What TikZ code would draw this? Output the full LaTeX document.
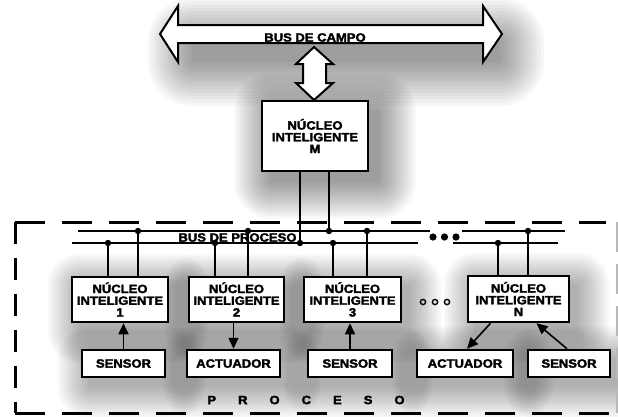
\documentclass[tikz,border=0pt]{standalone}
\usepackage{fontspec}
\newfontfamily\lab[FakeStretch=1.09,FakeBold=2.5]{Liberation Sans Bold}
\usetikzlibrary{arrows.meta,calc}
\pgfdeclarelayer{under}
\pgfsetlayers{under,main}

% soft drop shadow: stacked translucent rounded rectangles
% #1,#2 corners, #3,#4 offset, #5 spread per layer, #6 opacity per layer
\newcommand\drop[6]{%
  \foreach \k in {0,...,13}{%
    \pgfmathsetmacro\rr{\k*#5+1}%
    \fill[black,opacity=#6,rounded corners=\rr bp]
      ($#1+(#3-\k*#5,#4-\k*#5)$) rectangle ($#2+(#3+\k*#5,#4+\k*#5)$);
  }}

\begin{document}
\begin{tikzpicture}[x=1bp,y=-1bp,
  txt/.style={font=\lab\fontsize{12}{11.8}\selectfont},
  core/.style={txt,draw,line width=2.5bp,fill=white,align=center,inner sep=0pt},
  io/.style={txt,draw,line width=2.5bp,fill=white,inner sep=0pt,minimum height=27bp},
  bigarrow/.style={draw,line width=2bp,fill=white,line join=miter},
  bus/.style={line width=1.2bp},
  tap/.style={line width=1.5bp},
  sig/.style={line width=1.6bp,-{Triangle[length=11bp,width=10bp]}},
  hframe/.style={line width=3bp,dash pattern=on 30bp off 17bp},
  vframe/.style={line width=3bp,dash pattern=on 22bp off 14bp}
]
\useasboundingbox (0,0) rectangle (618,416);

% field bus: wide double arrow
\coordinate (fbA) at (178,24);
\coordinate (fbB) at (486,44);
\path[bigarrow] (160,34) -- (178,6) -- (178,25) -- (483,25) -- (483,6) -- (502,34)
  -- (483,62) -- (483,43) -- (178,43) -- (178,62) -- cycle;
\node[txt] (campo) at (315,37.5) {BUS DE CAMPO};

% master core
\node[core,minimum width=106bp,minimum height=70bp] (M) at (315,136)
  {NÚCLEO\\INTELIGENTE\\M};

% link between field bus and master core
\path[bigarrow] (314,47) -- (333,64) -- (326,64) -- (326,83) -- (333,83) -- (314,100)
  -- (296,83) -- (303,83) -- (303,64) -- (296,64) -- cycle;

% process boundary
\draw[hframe] (15,222) -- (606,222);
\draw[hframe] (15,413) -- (612,413);
\draw[vframe] (15,222) -- (15,413);
\draw[line width=2bp,gray!55,dash pattern=on 30bp off 12bp] (617,222) -- (617,413);

% process bus (two lines)
\draw[bus] (78,231) -- (430,231);
\draw[bus] (462,231) -- (565,231);
\draw[bus] (72,243) -- (418,243);
\draw[bus] (453,243) -- (558,243);
\node[txt,inner sep=0pt] (pbus) at (237.5,237.5) {BUS DE PROCESO};
\foreach \x in {433,444.5,456} \fill (\x,237) circle (3.6bp);

% local cores
\node[core,minimum width=96bp,minimum height=45bp] (N1) at (120,299.5) {NÚCLEO\\INTELIGENTE\\1};
\node[core,minimum width=95bp,minimum height=45bp] (N2) at (236.5,299.5) {NÚCLEO\\INTELIGENTE\\2};
\node[core,minimum width=97bp,minimum height=45bp] (N3) at (352.5,299.5) {NÚCLEO\\INTELIGENTE\\3};
\node[core,minimum width=101bp,minimum height=46bp] (NN) at (518.5,299) {NÚCLEO\\INTELIGENTE\\N};
\foreach \x in {423,435,447} \draw[line width=1.4bp] (\x,302) circle (2.6bp);

% sensors and actuators
\node[io,minimum width=83bp] (S1) at (123.5,363.5) {SENSOR};
\node[io,minimum width=93bp] (A2) at (233.5,363.5) {ACTUADOR};
\node[io,minimum width=84bp] (S3) at (350,363.5) {SENSOR};
\node[io,minimum width=96bp] (AN) at (465,363.5) {ACTUADOR};
\node[io,minimum width=82bp] (SN) at (569,363.5) {SENSOR};

% bus taps: (lower line, upper line) per core
\coordinate (m1) at (300,243);  \coordinate (m2) at (329,231);
\coordinate (a1) at (108,243);  \coordinate (a2) at (138,231);
\coordinate (b1) at (215,243);  \coordinate (b2) at (248,231);
\coordinate (c1) at (333,243);  \coordinate (c2) at (367,231);
\coordinate (d1) at (498,243);  \coordinate (d2) at (528,231);

\draw[tap] (m1 |- M.south) -- (m1);
\draw[tap] (m2 |- M.south) -- (m2);
\foreach \p/\n in {a1/N1,a2/N1,b1/N2,b2/N2,c1/N3,c2/N3,d1/NN,d2/NN}
  \draw[tap] (\p) -- (\p |- \n.north);
\foreach \p in {m1,m2,a1,a2,b1,b2,c1,c2,d1,d2} \fill (\p) circle (3.2bp);

% signal flow
\draw[sig] (S1.north) -- (S1.north |- N1.south);
\draw[sig] (A2.north |- N2.south) -- (A2.north);
\draw[sig] (S3.north) -- (S3.north |- N3.south);
\draw[sig] ($(NN.south)+(-28,0)$) -- ($(AN.north)+(2,0)$);
\draw[sig] ($(SN.north)+(-2,0)$) -- ($(NN.south)+(18,0)$);

% process label
\node[txt] (proc) at (306,400) {P\hspace{22bp}R\hspace{22bp}O\hspace{22bp}C\hspace{22bp}E\hspace{22bp}S\hspace{22bp}O};

% shadows beneath everything
\begin{pgfonlayer}{under}
  \fill[white] (0,0) rectangle (618,416);
  \drop{(fbA)}{(fbB)}{14}{18}{3.4}{0.03}
  \drop{(M.north west)}{(M.south east)}{10}{10}{2.8}{0.03}
  \foreach \n in {N1,N2,N3,NN,S1,A2,S3,AN,SN}
    {\drop{(\n.north west)}{(\n.south east)}{8}{9}{2.4}{0.022}}
\end{pgfonlayer}
\end{tikzpicture}
\end{document}
